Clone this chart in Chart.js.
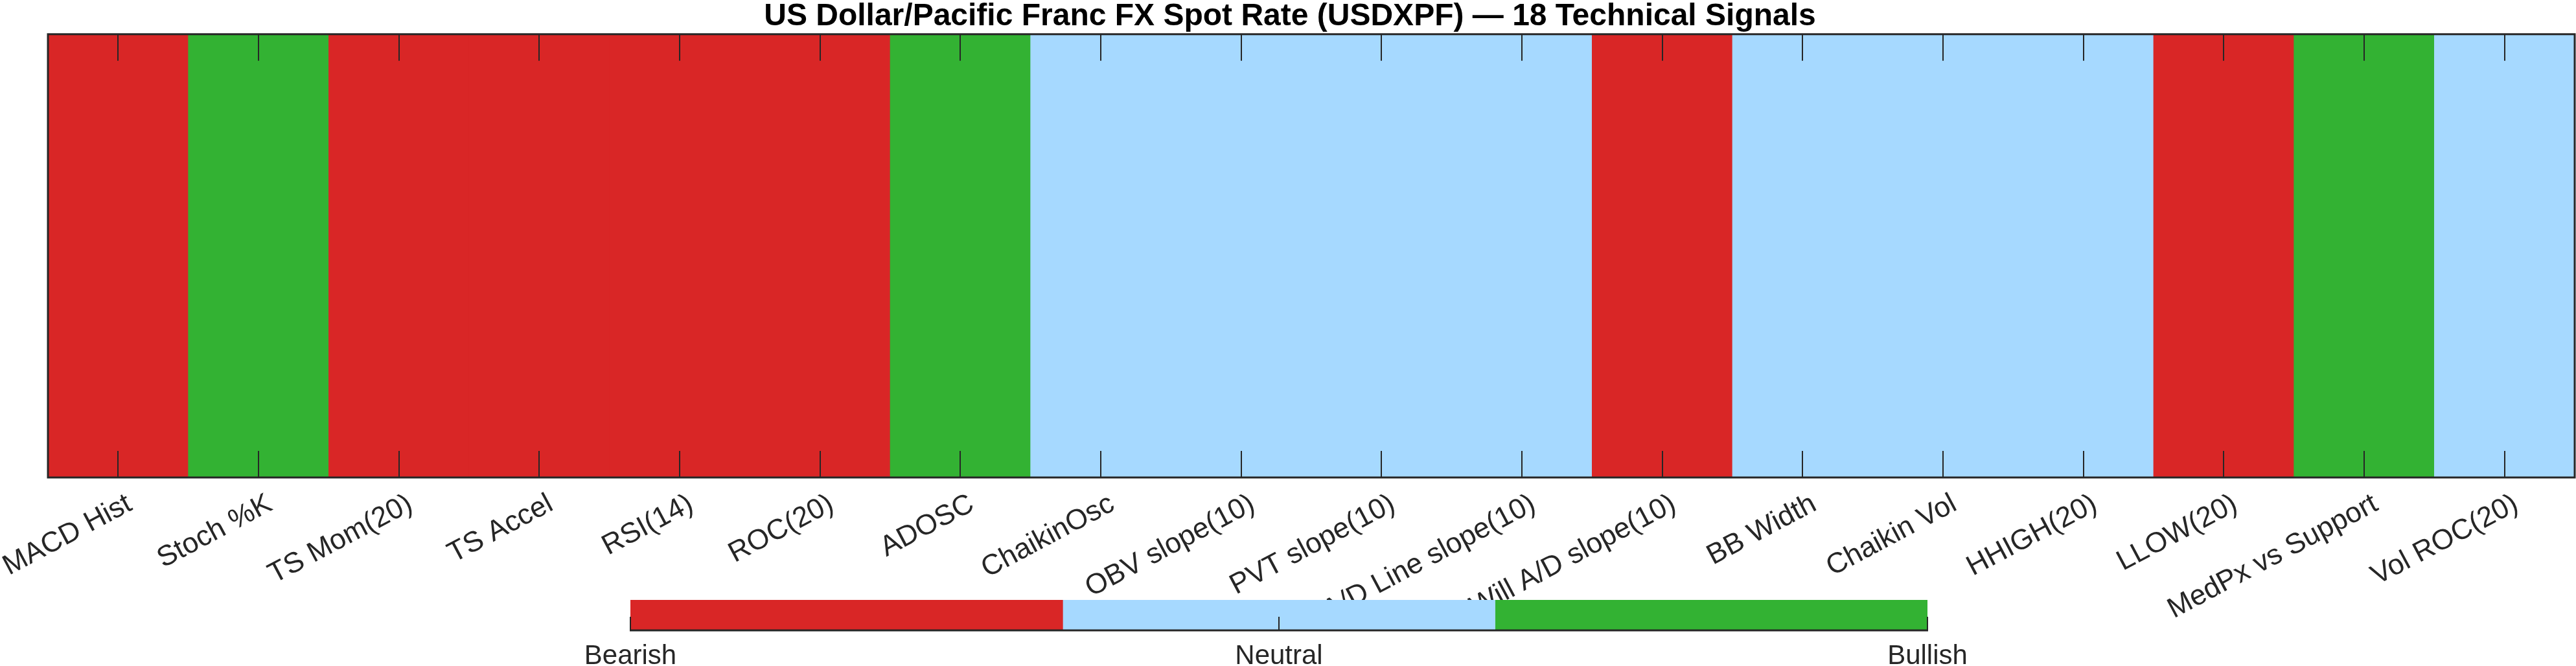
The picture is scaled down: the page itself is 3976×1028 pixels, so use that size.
<!DOCTYPE html>
<html>
<head>
<meta charset="utf-8">
<script src="https://cdn.jsdelivr.net/npm/chart.js@4.4.1/dist/chart.umd.min.js"></script>
<style>
  body { margin: 0; background: #fff; }
  #wrap { position: relative; width: 3976px; height: 1028px; }
  #main { position: absolute; left: 0; top: 0; width: 3976px; height: 1028px; }
  #bar { position: absolute; left: 880px; top: 915px; width: 2190px; height: 113px; }
</style>
</head>
<body>
<div id="wrap">
  <div id="main"><canvas id="heat"></canvas></div>
  <div id="bar"><canvas id="cbar"></canvas></div>
</div>
<script>
// dados
const titulo = 'US Dollar/Pacific Franc FX Spot Rate (USDXPF) \u2014 18 Technical Signals';

const sinais = [
  'MACD Hist', 'Stoch %K', 'TS Mom(20)', 'TS Accel', 'RSI(14)', 'ROC(20)',
  'ADOSC', 'ChaikinOsc', 'OBV slope(10)', 'PVT slope(10)', 'A/D Line slope(10)',
  'Will A/D slope(10)', 'BB Width', 'Chaikin Vol', 'HHIGH(20)', 'LLOW(20)',
  'MedPx vs Support', 'Vol ROC(20)'
];
// -1 bearish, 0 neutro, 1 bullish
const valores = [-1, 1, -1, -1, -1, -1, 1, 0, 0, 0, 0, -1, 0, 0, 0, -1, 1, 0];

const niveis = [-1, 0, 1];
const nomesNiveis = ['Bearish', 'Neutral', 'Bullish'];
const coresNiveis = ['rgb(217,38,38)', 'rgb(166,217,255)', 'rgb(51,178,51)'];

const fonte = "'Liberation Sans', Arial, sans-serif";
const tinta = '#262626';

function corDoValor(v) {
  return coresNiveis[niveis.indexOf(v)];
}

// ticks pra dentro + moldura (estilo matlab)
const moldura = {
  id: 'moldura',
  afterDatasetsDraw(chart) {
    const { ctx, chartArea: a, scales } = chart;
    const x = scales.x;
    ctx.save();
    ctx.strokeStyle = tinta;
    ctx.lineWidth = 2;
    x.ticks.forEach((t, i) => {
      const px = Math.round(x.getPixelForTick(i));
      ctx.beginPath();
      ctx.moveTo(px, a.top); ctx.lineTo(px, a.top + 41);
      ctx.moveTo(px, a.bottom); ctx.lineTo(px, a.bottom - 41);
      ctx.stroke();
    });
    ctx.lineWidth = 3;
    ctx.strokeRect(a.left, a.top, a.right - a.left, a.bottom - a.top);
    ctx.restore();
  }
};

new Chart(document.getElementById('heat'), {
  type: 'bar',
  data: {
    labels: sinais,
    datasets: [{
      data: valores.map(() => [0, 1]),
      backgroundColor: valores.map(corDoValor),
      borderWidth: 0,
      barPercentage: 1,
      categoryPercentage: 1
    }]
  },
  options: {
    responsive: true,
    maintainAspectRatio: false,
    devicePixelRatio: 1,
    animation: false,
    // titulo centrado na figura, eixo y invisivel empurra a area do grafico
    layout: { padding: { left: 8, right: 2, top: 0, bottom: 0 } },
    plugins: {
      legend: { display: false },
      tooltip: { enabled: false },
      title: {
        display: true,
        text: titulo,
        color: '#000',
        font: { family: fonte, size: 48, weight: 'bold', lineHeight: 0.85 },
        padding: { top: 5, bottom: 7 }
      }
    },
    scales: {
      x: {
        grid: { display: false, drawTicks: false },
        border: { display: false },
        ticks: {
          autoSkip: false,
          maxRotation: 28,
          minRotation: 28,
          padding: 15,
          labelOffset: 18,
          color: tinta,
          font: { family: fonte, size: 44 }
        },
        afterFit(scale) {
          scale.height = 291;
          scale.paddingLeft = 0;
          scale.paddingRight = 0;
        }
      },
      y: {
        min: 0,
        max: 1,
        grid: { display: false, drawTicks: false },
        border: { display: false },
        ticks: { display: false },
        afterFit(scale) { scale.width = 66; }
      }
    }
  },
  plugins: [moldura]
});

// colorbar
const eixoBarra = {
  id: 'eixoBarra',
  afterDatasetsDraw(chart) {
    const { ctx, chartArea: a, scales } = chart;
    const x = scales.x;
    ctx.save();
    ctx.strokeStyle = tinta;
    ctx.lineWidth = 2;
    niveis.forEach(v => {
      const px = Math.round(x.getPixelForValue(v));
      ctx.beginPath();
      ctx.moveTo(px, a.bottom); ctx.lineTo(px, a.bottom - 21);
      ctx.stroke();
    });
    ctx.lineWidth = 3;
    ctx.beginPath();
    ctx.moveTo(a.left - 1, a.bottom); ctx.lineTo(a.right + 1, a.bottom);
    ctx.stroke();
    ctx.restore();
  }
};

const passo = (niveis[niveis.length - 1] - niveis[0]) / niveis.length;

new Chart(document.getElementById('cbar'), {
  type: 'bar',
  data: {
    labels: [''],
    datasets: niveis.map((v, i) => ({
      data: [[niveis[0] + i * passo, niveis[0] + (i + 1) * passo]],
      backgroundColor: coresNiveis[i],
      borderWidth: 0,
      barPercentage: 1,
      categoryPercentage: 1,
      grouped: false
    }))
  },
  options: {
    indexAxis: 'y',
    responsive: true,
    maintainAspectRatio: false,
    devicePixelRatio: 1,
    animation: false,
    layout: { padding: { left: 93, right: 95, top: 11, bottom: 0 } },
    plugins: { legend: { display: false }, tooltip: { enabled: false } },
    scales: {
      x: {
        min: niveis[0],
        max: niveis[niveis.length - 1],
        grid: { display: false, drawTicks: false },
        border: { display: false },
        afterBuildTicks(scale) { scale.ticks = niveis.map(v => ({ value: v })); },
        ticks: {
          padding: 15,
          color: tinta,
          font: { family: fonte, size: 42 },
          callback: v => nomesNiveis[niveis.indexOf(v)]
        },
        afterFit(scale) {
          scale.height = 55;
          scale.paddingLeft = 0;
          scale.paddingRight = 0;
        }
      },
      y: { display: false }
    }
  },
  plugins: [eixoBarra]
});
</script>
</body>
</html>
